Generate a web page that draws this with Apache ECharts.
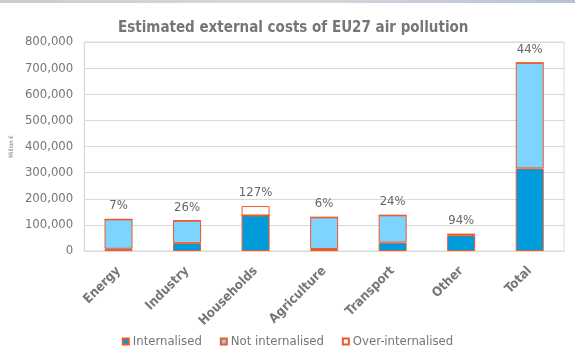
<!DOCTYPE html>
<html><head><meta charset="utf-8">
<script src="https://cdn.jsdelivr.net/npm/echarts@6/dist/echarts.min.js"></script>
<style>html,body{margin:0;padding:0;background:#fff;}#c{width:575px;height:357px;}
#strip{position:absolute;left:0;top:0;width:575px;height:3px;background:linear-gradient(90deg,#c9ccd3,#d6d9de 50%,#b8c2d4);}</style>
</head><body><div id="strip"></div><div id="c"></div>
<script>
const categories = ['Energy','Industry','Households','Agriculture','Transport','Other','Total'];
const internalised = [8500, 30000, 136000, 7700, 32000, 60000, 316000];
const notInternalised = [112500, 86000, 0, 121300, 104500, 4000, 404000];
const overInternalised = [0, 0, 36000, 0, 0, 0, 0];
const percentLabels = ['7%','26%','127%','6%','24%','94%','44%'];
const yTicks = [0,100000,200000,300000,400000,500000,600000,700000,800000];

const FONT = "'DejaVu Sans Condensed','DejaVu Sans',sans-serif";
const GRAY = '#767676';
const ORANGE = '#EE5A2A';
const chart = echarts.init(document.getElementById('c'));
const fmt = v => v.toString().replace(/\B(?=(\d{3})+(?!\d))/g, ',');
chart.setOption({
  animation:false,
  textStyle:{fontFamily:FONT},
  title:{text:'Estimated external costs of EU27 air pollution', left:113, top:16,
    textStyle:{fontFamily:FONT,fontSize:15,fontWeight:'bold',color:GRAY}},
  grid:{left:83,right:11,top:42,bottom:106,show:true,borderColor:'#d9d9d9',borderWidth:1},
  legend:{data:['Internalised','Not internalised','Over-internalised'],bottom:4,left:'center',
    itemWidth:6,itemHeight:6,itemGap:18,icon:'rect',
    textStyle:{fontFamily:FONT,fontSize:13,color:GRAY,padding:[0,0,0,-1]}},
  xAxis:{type:'category',data:categories,
    axisLine:{lineStyle:{color:'#d9d9d9'}},axisTick:{show:false},
    axisLabel:{rotate:45,fontSize:13,fontWeight:'bold',color:GRAY,fontFamily:FONT,margin:18,interval:0}},
  yAxis:{type:'value',min:0,max:800000,interval:100000,
    name:'Million €',nameLocation:'middle',nameRotate:90,nameGap:63,
    nameTextStyle:{fontSize:6,color:GRAY,fontFamily:FONT},
    axisLine:{show:true,lineStyle:{color:'#d9d9d9'}},axisTick:{show:false},
    splitLine:{lineStyle:{color:'#d9d9d9'}},
    axisLabel:{formatter:v=>yTicks.includes(v)?fmt(v):'',fontSize:13,color:GRAY,fontFamily:FONT,margin:11}},
  series:[
    {name:'Internalised',type:'bar',stack:'s',data:internalised,barWidth:28,
      itemStyle:{color:'#009BDB',borderColor:ORANGE,borderWidth:1}},
    {name:'Not internalised',type:'bar',stack:'s',data:notInternalised,barWidth:28,
      itemStyle:{color:'#7DD4FF',borderColor:ORANGE,borderWidth:1}},
    {name:'Over-internalised',type:'bar',stack:'s',data:overInternalised,barWidth:28,
      itemStyle:{color:'#ffffff',borderColor:ORANGE,borderWidth:1}},
    {name:'pct',type:'bar',stack:'s',data:categories.map(()=>0),barWidth:28,
      itemStyle:{color:'transparent'},
      label:{show:true,position:'top',distance:7,formatter:p=>percentLabels[p.dataIndex],
        fontSize:13,color:'#666666',fontFamily:FONT}}
  ]
});
</script></body></html>
